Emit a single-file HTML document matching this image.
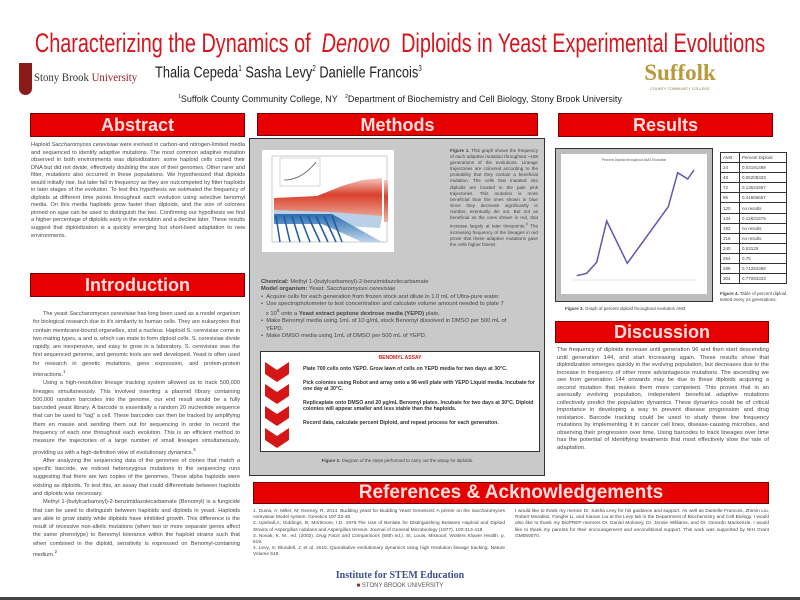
<!DOCTYPE html>
<html><head><meta charset="utf-8"><style>
*{margin:0;padding:0;box-sizing:border-box}
body{width:800px;height:600px;background:#fff;position:relative;overflow:hidden;font-family:"Liberation Sans",sans-serif;color:#333}
.a{position:absolute}
.hdr{position:absolute;background:#e60000;border:1px solid #7a0000;font-weight:bold;text-align:center;font-size:18px;line-height:22px;color:#ffe0e0;overflow:hidden;white-space:nowrap}
.t{position:absolute;font-size:5.6px;text-align:justify;color:#444}
.t p{text-indent:10px}
table{border-collapse:collapse}
td{border:1px solid #333;font-size:4.5px;height:10.1px;padding:0 2px;color:#444}
</style></head><body>
<div class="a" style="left:400px;top:28px;color:#d8141c;font-size:27px;line-height:30px;white-space:nowrap;transform:translateX(-50%) scaleX(0.735)">Characterizing the Dynamics of &nbsp;<i>Denovo</i>&nbsp; Diploids in Yeast Experimental Evolutions</div>
<div class="a" style="left:19px;top:63px;width:13px;height:32px;background:#8a1b1b;border-radius:0 0 7px 7px"></div>
<div class="a" style="left:34px;top:70px;font-family:'Liberation Serif',serif;font-size:12px;color:#333;white-space:nowrap;transform:scaleX(0.9);transform-origin:left">Stony Brook <span style="color:#9a1b1b">University</span></div>
<div class="a" style="left:155px;top:64px;font-size:16px;color:#222;white-space:nowrap;transform:scaleX(0.8);transform-origin:left">Thalia Cepeda<sup style="font-size:8px">1</sup> Sasha Levy<sup style="font-size:8px">2</sup> Danielle Francois<sup style="font-size:8px">3</sup></div>
<div class="a" style="left:635px;top:61px;width:90px;text-align:center;font-family:'Liberation Serif',serif;font-weight:bold;font-size:23px;color:#b89a3c;line-height:24px">Suffolk</div>
<div class="a" style="left:635px;top:87px;width:90px;text-align:center;font-size:3.8px;color:#8a7a40">COUNTY COMMUNITY COLLEGE</div>
<div class="a" style="left:0;top:94px;width:800px;text-align:center;font-size:9px;color:#222"><sup style="font-size:5px">1</sup>Suffolk County Community College, NY &nbsp;&nbsp;<sup style="font-size:5px">2</sup>Department of Biochemistry and Cell Biology, Stony Brook University</div>

<div class="hdr" style="left:30px;top:113px;width:215px;height:24px">Abstract</div>
<div class="hdr" style="left:257px;top:113px;width:281px;height:23px">Methods</div>
<div class="hdr" style="left:558px;top:113px;width:215px;height:24px">Results</div>
<div class="hdr" style="left:30px;top:273px;width:215px;height:24px">Introduction</div>

<div class="t" style="left:31px;top:142px;width:214px;line-height:7.55px">Haploid <i>Saccharomyces cerevisiae</i> were evolved in carbon-and nitrogen-limited media and sequenced to identify adaptive mutations. The most common adaptive mutation observed in both environments was diploidization: some haploid cells copied their DNA but did not divide, effectively doubling the size of their genomes. Other rarer and fitter, mutations also occurred in these populations. We hypothesized that diploids would initially rise, but later fall in frequency as they are outcompeted by fitter haploids in later stages of the evolution. To test this hypothesis we estimated the frequency of diploids at different time points throughout each evolution using selective benomyl media. On this media haploids grow faster than diploids, and the size of colonies pinned on agar can be used to distinguish the two. Confirming our hypothesis we find a higher percentage of diploids early in the evolution and a decline later. These results suggest that diploidization is a quickly emerging but short-lived adaptation to new environments.</div>

<div class="t" style="left:33px;top:310px;width:207px;line-height:8.3px">
<p>The yeast <i>Saccharomyces cerevisiae</i> has long been used as a model organism for biological research due to it's similarity to human cells. They are eukaryotes that contain membrane-bound organelles, and a nucleus. Haploid S. cerevisiae come in two mating types, a and α, which can mate to form diploid cells. S. cerevisiae divide rapidly, are inexpensive, and easy to grow in a laboratory. S. cerevisiae was the first sequenced genome, and genomic tools are well developed. Yeast is often used for research in genetic mutations, gene expression, and protein-protein interactions.<sup>1</sup></p>
<p>Using a high-resolution lineage tracking system allowed us to track 500,000 lineages simultaneously. This involved inserting a plasmid library containing 500,000 random barcodes into the genome, our end result would be a fully barcoded yeast library. A barcode is essentially a random 20 nucleotide sequence that can be used to "tag" a cell. These barcodes can then be tracked by amplifying them en masse and sending them out for sequencing in order to record the frequency of each one throughout each evolution. This is an efficient method to measure the trajectories of a large number of small lineages simultaneously, providing us with a high-definition view of evolutionary dynamics.<sup>4</sup></p>
<p>After analyzing the sequencing data of the genomes of clones that match a specific barcode, we noticed heterozygous mutations in the sequencing runs suggesting that there are two copies of the genomes. These alpha haploids were existing as diploids. To test this, an assay that could differentiate between haploids and diploids was necessary.</p>
<p>Methyl 1-(butylcarbamoyl)-2-benzimidazolecarbamate (Benomyl) is a fungicide that can be used to distinguish between haploids and diploids in yeast. Haploids are able to grow stably while diploids have inhibited growth. This difference is the result of recessive non-allelic mutations (when two or more separate genes affect the same phenotype) to Benomyl tolerance within the haploid strains such that when combined in the diploid, sensitivity is expressed on Benomyl-containing medium.<sup>2</sup></p></div>

<div class="a" style="left:249px;top:138px;width:296px;height:338px;background:#c9c9c9;border:1.5px solid #333"></div>
<div class="a" style="left:262px;top:150px;width:132px;height:102px;background:#fff"></div>
<svg class="a" style="left:262px;top:150px" width="132" height="102">
<defs><linearGradient id="r" x1="0" y1="0" x2="0" y2="1"><stop offset="0" stop-color="#f3c8c0"/><stop offset=".4" stop-color="#d8402c"/><stop offset="1" stop-color="#f0b0a0"/></linearGradient>
<linearGradient id="b" x1="0" y1="0" x2="0" y2="1"><stop offset="0" stop-color="#2a6cb0"/><stop offset="1" stop-color="#bcd4ea"/></linearGradient></defs>
<rect x="10" y="6" width="115" height="86" fill="none" stroke="#999" stroke-width=".5"/>
<path d="M12 48 L55 46 L80 36 L100 30 L120 28 L120 68 L90 70 L60 66 L12 60Z" fill="url(#r)"/>
<path d="M12 60 L70 62 L120 66 L118 78 L80 76 L40 70 L12 66Z" fill="#b9d0e6"/>
<path d="M12 64 L70 64 L120 92 L100 92 L60 74 L12 74Z" fill="url(#b)"/>
<g stroke="#1d5a9c" stroke-width="1.5"><line x1="14" y1="66" x2="18" y2="92"/><line x1="22" y1="66" x2="28" y2="92"/><line x1="30" y1="66" x2="38" y2="92"/><line x1="38" y1="66" x2="48" y2="92"/><line x1="46" y1="66" x2="58" y2="92"/><line x1="54" y1="66" x2="66" y2="92"/><line x1="62" y1="66" x2="74" y2="92"/><line x1="70" y1="66" x2="80" y2="92"/></g>
<rect x="18" y="8" width="40" height="28" fill="#fff" stroke="#aaa" stroke-width=".5"/>
<path d="M22 30 Q40 30 54 12" fill="none" stroke="#555" stroke-width=".8"/>
<rect x="122" y="30" width="4" height="42" fill="url(#r)"/>
</svg>
<div class="t" style="left:450px;top:148px;width:88px;font-size:4.6px;line-height:6.1px"><b>Figure 1.</b> This graph shows the frequency of each adaptive mutation throughout ~168 generations of the evolutions. Lineage trajectories are coloured according to the probability that they contain a beneficial mutation. The cells that mutated into diploids are located in the pale pink trajectories. This mutation is more beneficial than the ones shown in blue since they decrease significantly in number, eventually die out. But not as beneficial as the ones shown in red, that increase largely at later timepoints.<sup>4</sup> The increasing frequency of the lineages in red prove that these adaptive mutations gave the cells higher fitness.</div>
<div class="t" style="left:261px;top:279px;width:280px;font-size:5.8px;line-height:7.3px;text-align:left">
<div><b>Chemical:</b> Methyl 1-(butylcarbamoyl)-2-benzimidazolecarbamate</div>
<div><b>Model organism:</b> Yeast: <i>Saccharomyces cerevisiae</i></div>
<div>• &nbsp;Acquire cells for each generation from frozen stock and dilute in 1.0 mL of Ultra-pure water.</div>
<div>• &nbsp;Use spectrophotometer to test concentration and calculate volume amount needed to plate 7<br>&nbsp;&nbsp;&nbsp;x 10<sup>5</sup> onto a <b>Yeast extract peptone dextrose media (YEPD)</b> plate.</div>
<div>• &nbsp;Make Benomyl media using 1mL of 10 g/mL stock Benomyl dissolved in DMSO per 500 mL of<br>&nbsp;&nbsp;&nbsp;YEPD.</div>
<div>• &nbsp;Make DMSO media using 1mL of DMSO per 500 mL of YEPD.</div></div>
<div class="a" style="left:260px;top:351px;width:280px;height:101px;background:#fff;border:1.5px solid #333"></div>
<div class="a" style="left:260px;top:355px;width:280px;text-align:center;font-size:5px;color:#d02020;font-weight:bold">BENOMYL ASSAY</div>
<svg class="a" style="left:263px;top:360px" width="32" height="92">
<g fill="#d41616"><path d="M2 2 L14 10 L26 2 L26 14 L14 22 L2 14Z"/><path d="M2 24 L14 32 L26 24 L26 36 L14 44 L2 36Z"/><path d="M2 46 L14 54 L26 46 L26 58 L14 66 L2 58Z"/><path d="M2 68 L14 76 L26 68 L26 80 L14 88 L2 80Z"/></g></svg>
<div class="a" style="left:303px;top:366px;width:232px;font-size:5.2px;line-height:6.3px;font-weight:bold;color:#333">
<div style="height:14px">Plate 700 cells onto YEPD. Grow lawn of cells on YEPD media for two days at 30°C.</div>
<div style="height:20px">Pick colonies using Robot and array onto a 96 well plate with YEPD Liquid media. Incubate for one day at 30°C.</div>
<div style="height:20px">Replicaplate onto DMSO and 20 µg/mL Benomyl plates. Incubate for two days at 30°C. Diploid colonies will appear smaller and less stable than the haploids.</div>
<div>Record data, calculate percent Diploid, and repeat process for each generation.</div></div>
<div class="a" style="left:250px;top:458px;width:295px;text-align:center;font-size:4.5px;color:#444"><b>Figure 2.</b> Diagram of the steps performed to carry out the assay for diploids.</div>

<div class="hdr" style="left:253px;top:482px;width:516px;height:22px;font-size:19px;line-height:20px">References &amp; Acknowledgements</div>
<div class="t" style="left:253px;top:509px;width:252px;font-size:4.8px;line-height:6.2px">1. Duina, A; Miller, M; Keeney, R. 2014. Budding yeast for Budding Yeast Geneticist: A primer on the saccharomyces cerevisiae Model system. Genetics 197:33-48.<br>2. Upshall,A; Giddings, B; Mortimore, I.D. 1976.The Use of Benlate for Distinguishing Between Haploid and Diploid Strains of Aspergillus nidulans and Aspergillus terreus. Journal of General Microbiology (1977), 100:413-418.<br>3. Novak, K. M., ed. (2002). <i>Drug Facts and Comparisons</i> (56th ed.). St. Louis, Missouri: Wolters Kluwer Health. p. 619.<br>4. Levy, S; Blundell, J; et al. 2015. Quantitative evolutionary dynamics using high resolution lineage tracking. Nature Volume 519.</div>
<div class="t" style="left:515px;top:509px;width:254px;font-size:4.8px;line-height:6.2px">I would like to thank my mentor Dr. Sasha Levy for his guidance and support. As well as Danielle Francois, Zhimin Liu, Robert Morabito, Fangfei Li, and Xianan Liu at the Levy lab in the Department of Biochemistry and Cell Biology. I would also like to thank my BioPREP mentors Dr. Daniel Moloney, Dr. Jennie Williams, and Dr. Gerardo Mackenzie. I would like to thank my parents for their encouragement and unconditional support. This work was supported by NIH Grant GM050070.</div>
<div class="a" style="left:300px;top:570px;width:200px;text-align:center;font-family:'Liberation Serif',serif;font-weight:bold;font-size:10px;color:#3d4f8e">Institute for STEM Education</div>
<div class="a" style="left:300px;top:583px;width:200px;text-align:center;font-size:6px;color:#555"><span style="color:#a22">■</span> STONY BROOK UNIVERSITY</div>

<div class="a" style="left:555px;top:148px;width:158px;height:154px;background:#bcbcbc;border:1.5px solid #333"></div>
<div class="a" style="left:561px;top:154px;width:146px;height:140px;background:#fff"></div>
<div class="a" style="left:561px;top:158px;width:146px;text-align:center;font-size:3.5px;color:#555">Percent Diploid throughout AM3 Evolution</div>
<svg class="a" style="left:561px;top:154px" width="146" height="140">
<polyline points="15.7,121.7 25.7,119.3 35.7,108.3 45.7,67 66.3,109.3 107.3,52.7 116.7,18.7 126.7,25 133,16" fill="none" stroke="#5a5ab0" stroke-width="1.5"/>
<line x1="12" y1="126" x2="136" y2="126" stroke="#ccc" stroke-width=".5"/>
</svg>
<table class="a" style="left:720px;top:152px;width:67px">
<tr><td style="width:19px">AM3</td><td>Percent Diploid</td></tr><tr><td>24</td><td>0.03191489</td></tr><tr><td>48</td><td>0.05208333</td></tr><tr><td>72</td><td>0.13541667</td></tr><tr><td>96</td><td>0.41666667</td></tr><tr><td>120</td><td>no results</td></tr><tr><td>144</td><td>0.12631579</td></tr><tr><td>192</td><td>no results</td></tr><tr><td>216</td><td>no results</td></tr><tr><td>240</td><td>0.53125</td></tr><tr><td>264</td><td>0.75</td></tr><tr><td>288</td><td>0.71264368</td></tr><tr><td>304</td><td>0.77083333</td></tr></table>
<div class="t" style="left:720px;top:291px;width:70px;font-size:4.5px;line-height:5.5px;text-align:left"><b>Figure 4.</b> Table of percent diploid tested every 24 generations.</div>
<div class="t" style="left:565px;top:306px;width:150px;font-size:4.5px"><b>Figure 3.</b> Graph of percent diploid throughout evolution AM3</div>

<div class="hdr" style="left:555px;top:321px;width:214px;height:22px;font-size:18px;line-height:20px">Discussion</div>
<div class="t" style="left:557px;top:347px;width:212px;line-height:7.5px;font-size:5.8px">The frequency of diploids increase until generation 96 and then start descending until generation 144, and start increasing again. These results show that diploidization emerges quickly in the evolving population, but decreases due to the increase in frequency of other more advantageous mutations. The ascending we see from generation 144 onwards may be due to these diploids acquiring a second mutation that makes them more competent. This proves that in an asexually evolving population, independent beneficial adaptive mutations collectively predict the population dynamics. These dynamics could be of critical importance in developing a way to prevent disease progression and drug resistance. Barcode tracking could be used to study these low frequency mutations by implementing it in cancer cell lines, disease-causing microbes, and observing their progression over time. Using barcodes to track lineages over time has the potential of identifying treatments that most effectively slow the rate of adaptation.</div>
<div class="a" style="left:0;top:597px;width:800px;height:3px;background:#444"></div>
</body></html>
